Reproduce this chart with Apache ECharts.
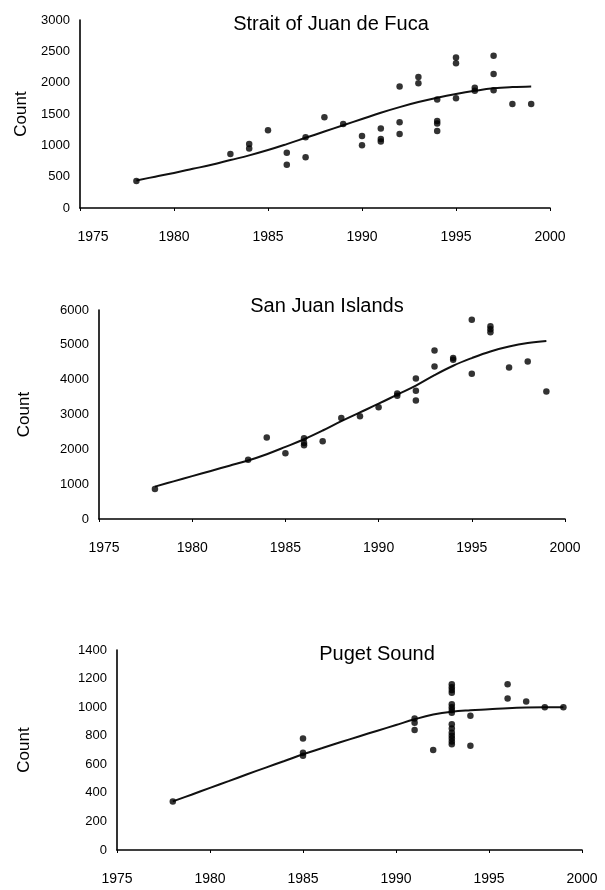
<!DOCTYPE html>
<html>
<head>
<meta charset="utf-8">
<script src="https://cdn.jsdelivr.net/npm/echarts@6/dist/echarts.min.js"></script>
<style>
html,body{margin:0;padding:0;background:#ffffff;}
#c{width:605px;height:890px;}
</style>
</head>
<body>
<div id="c"></div>
<script>
// ---- data ----
const panelTitles = ['Strait of Juan de Fuca', 'San Juan Islands', 'Puget Sound'];
const yAxisName = 'Count';

// Strait of Juan de Fuca: observed counts [year, count]
const juanObs = [
  [1978,430],[1983,860],[1984,1020],[1984,950],[1985,1240],[1986,880],[1986,690],
  [1987,1130],[1987,810],[1988,1450],[1989,1340],[1990,1150],[1990,1000],
  [1991,1270],[1991,1100],[1991,1060],[1992,1940],[1992,1370],[1992,1180],
  [1993,2090],[1993,1990],[1994,1730],[1994,1390],[1994,1350],[1994,1230],
  [1995,2400],[1995,2310],[1995,1750],[1996,1920],[1996,1870],
  [1997,2430],[1997,2140],[1997,1880],[1998,1660],[1999,1660]
];
const juanFitYears  = [1978,1979,1980,1981,1982,1983,1984,1985,1986,1987,1988,1989,1990,1991,1992,1993,1994,1995,1996,1997,1998,1999];
const juanFitValues = [440,500,560,625,690,765,840,925,1020,1120,1220,1320,1420,1520,1610,1690,1760,1820,1870,1910,1930,1940];

// San Juan Islands
const sanJuanObs = [
  [1978,860],[1983,1700],[1984,2340],[1985,1890],[1986,2320],[1986,2180],[1986,2120],
  [1987,2230],[1988,2900],[1989,2950],[1990,3210],[1991,3600],[1991,3540],
  [1992,4030],[1992,3680],[1992,3400],[1993,4840],[1993,4380],[1994,4620],[1994,4570],
  [1995,5720],[1995,4170],[1996,5530],[1996,5450],[1996,5360],[1997,4350],[1998,4520],[1999,3660]
];
const sanJuanFitYears  = [1978,1979,1980,1981,1982,1983,1984,1985,1986,1987,1988,1989,1990,1991,1992,1993,1994,1995,1996,1997,1998,1999];
const sanJuanFitValues = [930,1080,1230,1380,1530,1680,1860,2070,2290,2540,2810,3060,3310,3570,3830,4130,4400,4620,4810,4950,5050,5110];

// Puget Sound
const pugetObs = [
  [1978,340],[1985,780],[1985,680],[1985,660],[1991,920],[1991,890],[1991,840],[1992,700],
  [1993,1160],[1993,1140],[1993,1120],[1993,1100],[1993,1020],[1993,1000],[1993,980],[1993,960],
  [1993,880],[1993,850],[1993,820],[1993,800],[1993,780],[1993,760],[1993,740],
  [1994,940],[1994,730],[1996,1160],[1996,1060],[1997,1040],[1998,1000],[1999,1000]
];
const pugetFitYears  = [1978,1979,1980,1981,1982,1983,1984,1985,1986,1987,1988,1989,1990,1991,1992,1993,1994,1995,1996,1997,1998,1999];
const pugetFitValues = [340,387,435,482,530,577,623,670,712,754,795,835,875,915,948,968,978,985,993,998,1000,1000];

const xMin = 1975, xMax = 2000, xStep = 5;
const yMax = [3000, 6000, 1400];
const yStep = [500, 1000, 200];

// ---- layout ----
const FONT = '"Liberation Sans", Arial, Helvetica, sans-serif';
const INK = '#000000';
const grids = [
  {left: 80,  top: 20,  width: 470, height: 188},
  {left: 99,  top: 310, width: 466, height: 209},
  {left: 117, top: 650, width: 465, height: 200}
];
const titlePos = [{x: 326, top: 9}, {x: 322, top: 291}, {x: 372, top: 639}];
const nameGaps = [41, 66, 84];
const firstLabelPad = [26, 10, 0];

const obsSets = [juanObs, sanJuanObs, pugetObs];
const fitSets = [
  juanFitYears.map((y, i) => [y, juanFitValues[i]]),
  sanJuanFitYears.map((y, i) => [y, sanJuanFitValues[i]]),
  pugetFitYears.map((y, i) => [y, pugetFitValues[i]])
];

const option = {
  backgroundColor: '#ffffff',
  animation: false,
  textStyle: {fontFamily: FONT, color: INK},
  title: panelTitles.map((t, i) => ({
    text: t, left: titlePos[i].x, top: titlePos[i].top, textAlign: 'center',
    textStyle: {fontFamily: FONT, fontSize: 20, fontWeight: 'normal', color: INK}
  })),
  grid: grids.map(g => Object.assign({containLabel: false}, g)),
  xAxis: grids.map((g, i) => ({
    type: 'value', gridIndex: i, min: xMin, max: xMax, interval: xStep,
    axisLine: {show: true, lineStyle: {color: INK, width: 1.6}},
    axisTick: {show: true, length: 3, lineStyle: {color: INK, width: 1}},
    splitLine: {show: false},
    axisLabel: {
      fontFamily: FONT, fontSize: 14, color: INK, margin: 22,
      formatter: v => (v === xMin && firstLabelPad[i] > 0) ? '{a|' + v + '}' : String(v),
      rich: {a: {fontFamily: FONT, fontSize: 14, color: INK, padding: [0, 0, 0, firstLabelPad[i]]}}
    }
  })),
  yAxis: grids.map((g, i) => ({
    type: 'value', gridIndex: i, min: 0, max: yMax[i], interval: yStep[i],
    name: yAxisName, nameLocation: 'middle', nameRotate: 90, nameGap: nameGaps[i],
    nameTextStyle: {fontFamily: FONT, fontSize: 17, color: INK},
    axisLine: {show: true, lineStyle: {color: INK, width: 1.6}},
    axisTick: {show: false},
    splitLine: {show: false},
    axisLabel: {fontFamily: FONT, fontSize: 13, color: INK, margin: 10, formatter: v => String(v)}
  })),
  series: []
};

for (let i = 0; i < 3; i++) {
  option.series.push({
    type: 'line', xAxisIndex: i, yAxisIndex: i, data: fitSets[i],
    smooth: 0.4, showSymbol: false, symbol: 'none',
    lineStyle: {color: '#111111', width: 2}, z: 2
  });
  option.series.push({
    type: 'scatter', xAxisIndex: i, yAxisIndex: i, data: obsSets[i],
    symbol: 'circle', symbolSize: 6.5, itemStyle: {color: INK}, z: 3
  });
}

const chart = echarts.init(document.getElementById('c'), null, {renderer: 'canvas'});
chart.setOption(option);
</script>
</body>
</html>
